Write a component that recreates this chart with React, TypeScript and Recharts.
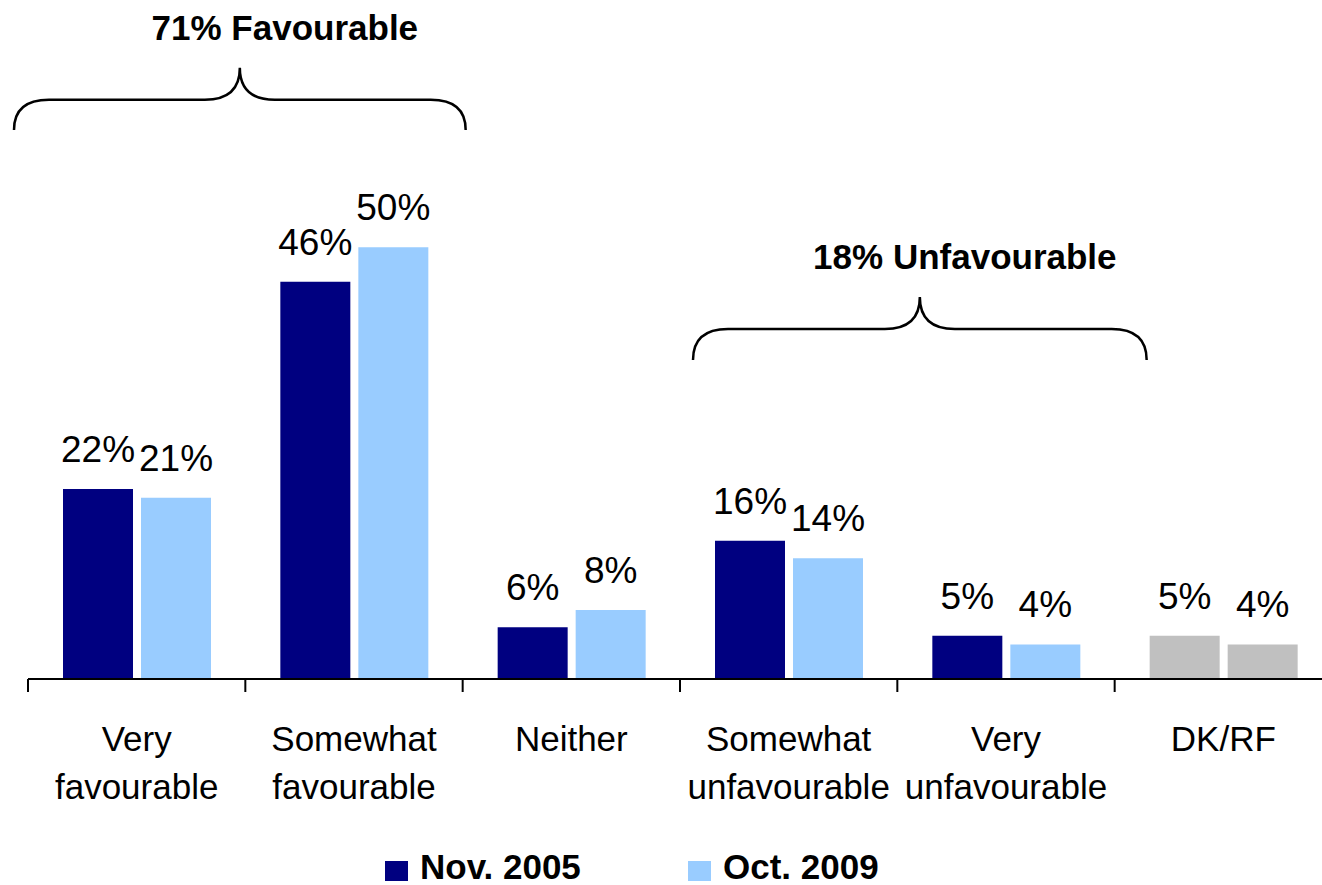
import React from "react";
import { BarChart, Bar, XAxis, YAxis, Cell, LabelList, ReferenceArea } from "recharts";

// categories (line breaks as in the original axis labels)
const categories = [
  "Very\nfavourable",
  "Somewhat\nfavourable",
  "Neither",
  "Somewhat\nunfavourable",
  "Very\nunfavourable",
  "DK/RF",
];
const nov2005 = [22, 46, 6, 16, 5, 5];
const oct2009 = [21, 50, 8, 14, 4, 4];
const seriesNames = ["Nov. 2005", "Oct. 2009"];

// brace annotations: first / last category covered, bottom and tip in percent
const braceText = ["71% Favourable", "18% Unfavourable"];
const braceFrom = [categories[0], categories[3]];
const braceTo = [categories[1], categories[4]];
const braceBottom = [63.6, 36.95];
const braceTip = [70.8, 44.25];

const DARK = "#000080";
const LIGHT = "#99CCFF";
const GREY = "#C0C0C0";
const FONT = "'Liberation Sans', Arial, Helvetica, sans-serif";

// small nudges so the braces sit where the original drew them
const bracePad = [
  [-14, 3],
  [13, 32],
];

const data = categories.map((name, i) => ({
  name,
  nov: nov2005[i],
  oct: oct2009[i],
}));

const CategoryTick = (props: any) => {
  const { x, y, payload, index, visibleTicksCount, width } = props;
  const half = payload.offset || width / visibleTicksCount / 2;
  const lines = String(payload.value).split("\n");
  return (
    <g>
      <line x1={x - half} x2={x - half} y1={y} y2={y + 13} stroke="#000" strokeWidth={2} />
      {index === visibleTicksCount - 1 && (
        <line x1={x + half} x2={x + half} y1={y} y2={y + 13} stroke="#000" strokeWidth={2} />
      )}
      <text x={x} y={y} textAnchor="middle" fontSize={35} fontFamily={FONT} fill="#000">
        {lines.map((l, i) => (
          <tspan key={i} x={x} y={y + 72 + i * 48}>
            {l}
          </tspan>
        ))}
      </text>
    </g>
  );
};

const ValueLabel = (props: any) => {
  const { x, y, width, value } = props;
  return (
    <text x={x + width / 2} y={y - 27} textAnchor="middle" fontSize={37} fontFamily={FONT} fill="#000">
      {value}%
    </text>
  );
};

const Brace = (props: any) => {
  const { x, y, width, height, text, pad } = props;
  const x0 = x + pad[0];
  const x1 = x + width + pad[1];
  const cx = (x0 + x1) / 2;
  const yt = y;
  const yb = y + height;
  const yh = yt + 32;
  const r = 35;
  const d = `M${x0},${yb} Q${x0},${yh} ${x0 + r},${yh} L${cx - r},${yh} Q${cx},${yh} ${cx},${yt} Q${cx},${yh} ${cx + r},${yh} L${x1 - r},${yh} Q${x1},${yh} ${x1},${yb}`;
  return (
    <g>
      <path d={d} fill="none" stroke="#000" strokeWidth={2.5} />
      <text x={cx + 45} y={yt - 28} textAnchor="middle" fontSize={35} fontWeight="bold" fontFamily={FONT} fill="#000">
        {text}
      </text>
    </g>
  );
};

const Legend = () => {
  const colors = [DARK, LIGHT];
  return (
    <div style={{ position: "absolute", left: 385, top: 849, display: "flex", fontFamily: FONT }}>
      {seriesNames.map((n, i) => (
        <div key={n} style={{ display: "flex", alignItems: "flex-start", width: i === 0 ? 303 : 220 }}>
          <span style={{ display: "inline-block", width: 23, height: 20, marginTop: 12, background: colors[i] }} />
          <span style={{ marginLeft: 12, fontSize: 35, fontWeight: "bold", lineHeight: "35px", color: "#000" }}>{n}</span>
        </div>
      ))}
    </div>
  );
};

export default function App() {
  return (
    <div style={{ position: "absolute", left: 0, top: 0, width: 1322, height: 885, overflow: "hidden", background: "#fff" }}>
      <BarChart
        width={1340}
        height={885}
        data={data}
        margin={{ top: 161, right: 8, left: 28, bottom: 56 }}
        barSize={70}
        barGap={8}
      >
        <XAxis
          dataKey="name"
          interval={0}
          height={150}
          tickSize={0}
          tickMargin={0}
          axisLine={{ stroke: "#000", strokeWidth: 2 }}
          tickLine={false}
          tick={<CategoryTick />}
        />
        <YAxis hide domain={[0, 60]} />
        {braceText.map((t, i) => (
          <ReferenceArea
            key={t}
            x1={braceFrom[i]}
            x2={braceTo[i]}
            y1={braceBottom[i]}
            y2={braceTip[i]}
            ifOverflow="visible"
            shape={(p: any) => <Brace {...p} text={t} pad={bracePad[i]} />}
          />
        ))}
        <Bar dataKey="nov" name={seriesNames[0]} fill={DARK} isAnimationActive={false}>
          {data.map((d) => (
            <Cell key={d.name} fill={d.name === "DK/RF" ? GREY : DARK} />
          ))}
          <LabelList dataKey="nov" content={<ValueLabel />} />
        </Bar>
        <Bar dataKey="oct" name={seriesNames[1]} fill={LIGHT} isAnimationActive={false}>
          {data.map((d) => (
            <Cell key={d.name} fill={d.name === "DK/RF" ? GREY : LIGHT} />
          ))}
          <LabelList dataKey="oct" content={<ValueLabel />} />
        </Bar>
      </BarChart>
      <Legend />
    </div>
  );
}
